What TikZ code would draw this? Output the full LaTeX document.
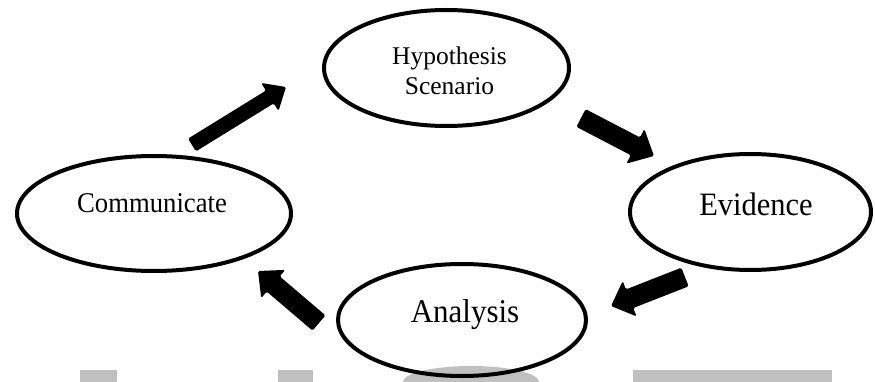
\documentclass[tikz,border=0pt]{standalone}
\usepackage{fontspec}
\setmainfont{Liberation Serif}
\usetikzlibrary{calc,shapes.geometric}
\definecolor{wmgray}{RGB}{192,192,192}
\tikzset{
  ell/.style={draw=black, ellipse, line width=4pt, inner sep=0pt},
  blockfill/.style={fill=black, rounded corners=1.5pt},
  wm/.style={fill=wmgray},
  lbl/.style={anchor=base, inner sep=0pt, align=center}
}
\newcommand\blockarr[6]{% name, start, end, shaft half, head half, head length
  \coordinate (#1b) at ($(#3)!#6!(#2)$);
  \fill[blockfill] ($(#2)!#4!90:(#3)$) -- ($(#1b)!#4!90:(#3)$) -- ($(#1b)!#5!90:(#3)$) -- (#3)
    -- ($(#1b)!#5!-90:(#3)$) -- ($(#1b)!#4!-90:(#3)$) -- ($(#2)!#4!-90:(#3)$) -- cycle;
}
\newcommand\vstr[1]{\scalebox{1}[1.07]{#1}}
\begin{document}
\begin{tikzpicture}[x=1pt, y=-1pt]
\useasboundingbox (0,0) rectangle (875,382);
\begin{scope}
  \clip (0,0) rectangle (875,382);
  \fill[wm] (80,370) rectangle (117,390);
  \fill[wm] (278,370) rectangle (313,390);
  \fill[wm] (471,382) ellipse [x radius=68, y radius=16];
  \fill[wm] (633,370) rectangle (832,390);
\end{scope}

\node[ell, minimum width=245pt, minimum height=116pt] (hyp) at (446.5,68) {};
\node[ell, minimum width=274pt, minimum height=115pt] (comm) at (154,213.5) {};
\node[ell, minimum width=241pt, minimum height=116pt] (evid) at (750.5,212) {};
\node[ell, minimum width=248pt, minimum height=112pt] (anal) at (462,320) {};

\node[lbl, font=\fontsize{25.5}{30}\selectfont] (hypT) at (449.5,95) {Hypothesis\\Scenario};
\node[lbl, font=\fontsize{26.7}{30}\selectfont] (commT) at (152,212) {\vstr{Communicate}};
\node[lbl, font=\fontsize{30.5}{34}\selectfont] (evidT) at (756,215) {\vstr{Evidence}};
\node[lbl, font=\fontsize{31}{35}\selectfont] (analT) at (465,322) {\vstr{Analysis}};

\coordinate (a1s) at (192,145);
\coordinate (a1e) at (286,87);
\coordinate (a2s) at (581,118);
\coordinate (a2e) at (654,156);
\coordinate (a3s) at (685,277);
\coordinate (a3e) at (611,306);
\coordinate (a4s) at (319,323);
\coordinate (a4e) at (258,271);

\blockarr{a1}{a1s}{a1e}{7.5pt}{16.5pt}{19pt}
\blockarr{a2}{a2s}{a2e}{10pt}{19.5pt}{21pt}
\blockarr{a3}{a3s}{a3e}{10pt}{19pt}{20pt}
\blockarr{a4}{a4s}{a4e}{10pt}{18.5pt}{20pt}
\end{tikzpicture}
\end{document}
